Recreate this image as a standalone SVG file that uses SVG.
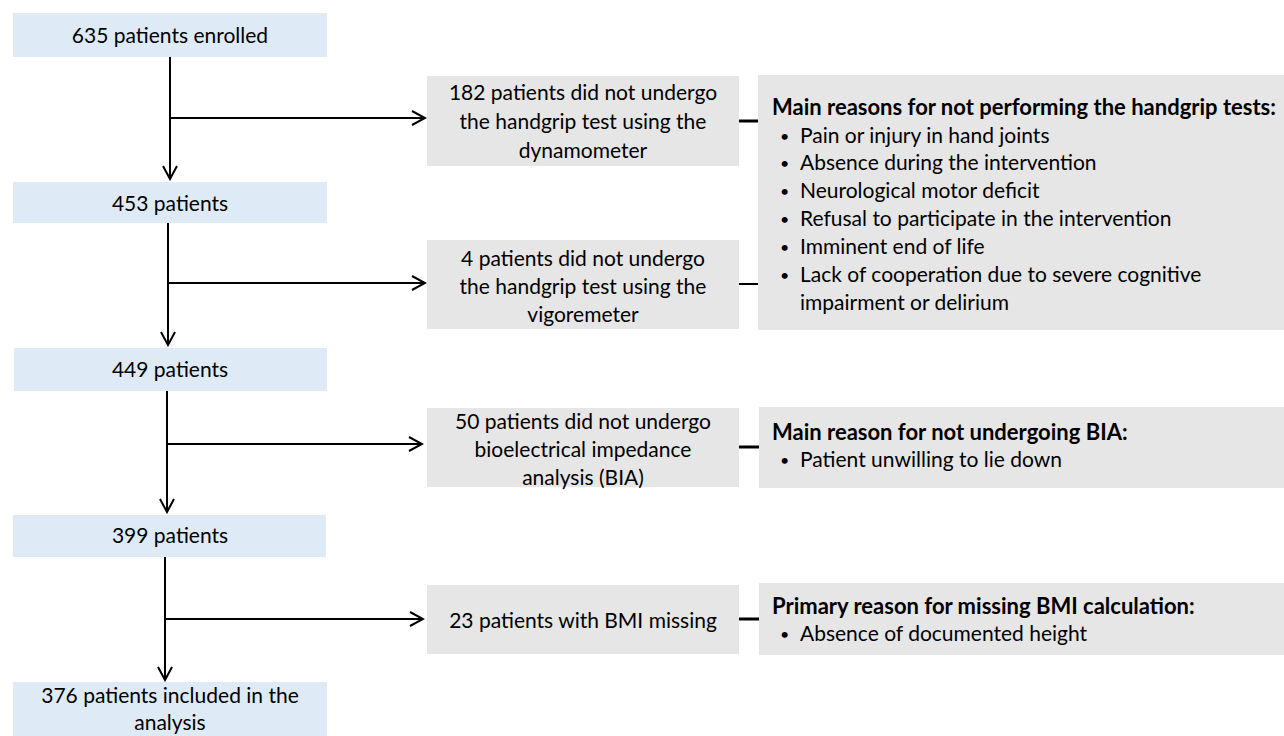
<svg xmlns="http://www.w3.org/2000/svg" width="1284" height="736" viewBox="0 0 1284 736">
<style>
text{font-family:Lato,"Open Sans","Liberation Sans",sans-serif;font-size:21px;fill:#000}
.c{text-anchor:middle}
.b{font-weight:bold;font-size:22px}
.d{font-size:16px}
.blue{fill:#DEEBF7}
.gray{fill:#E6E6E6}
.ln{stroke:#000;stroke-width:2;fill:none}
.thk{stroke:#000;stroke-width:3;fill:none}
</style>
<defs>
<marker id="ah" viewBox="0 0 16 16" refX="14" refY="8" markerWidth="16" markerHeight="16" markerUnits="userSpaceOnUse" orient="auto">
<path d="M1,1 L14,8 L1,15" fill="none" stroke="#000" stroke-width="2"/>
</marker>
</defs>
<rect width="1284" height="736" fill="#fff"/>
<g id="connectors">
<line class="ln" x1="170" y1="57" x2="170" y2="179" marker-end="url(#ah)"/>
<line class="ln" x1="170" y1="118" x2="425" y2="118" marker-end="url(#ah)"/>
<line class="ln" x1="168" y1="223" x2="168" y2="345" marker-end="url(#ah)"/>
<line class="ln" x1="168" y1="283" x2="425" y2="283" marker-end="url(#ah)"/>
<line class="ln" x1="167" y1="391" x2="167" y2="512" marker-end="url(#ah)"/>
<line class="ln" x1="167" y1="444" x2="422" y2="444" marker-end="url(#ah)"/>
<line class="ln" x1="165" y1="557" x2="165" y2="680" marker-end="url(#ah)"/>
<line class="ln" x1="165" y1="619" x2="423" y2="619" marker-end="url(#ah)"/>
<line class="thk" x1="739" y1="121" x2="758" y2="121"/>
<line class="ln" x1="739" y1="284" x2="758" y2="284"/>
<line class="thk" x1="739" y1="447" x2="759" y2="447"/>
<line class="thk" x1="739" y1="619" x2="759" y2="619"/>
</g>
<g id="n635">
<rect class="blue" x="13" y="13" width="314" height="44"/>
<text class="c" x="170" y="43">635 patients enrolled</text>
</g>
<g id="n453">
<rect class="blue" x="13" y="182" width="314" height="41"/>
<text class="c" x="170" y="211">453 patients</text>
</g>
<g id="n449">
<rect class="blue" x="14" y="348" width="313" height="43"/>
<text class="c" x="170" y="377">449 patients</text>
</g>
<g id="n399">
<rect class="blue" x="13" y="515" width="313" height="42"/>
<text class="c" x="170" y="543">399 patients</text>
</g>
<g id="n376">
<rect class="blue" x="13" y="682" width="314" height="54"/>
<text class="c" x="170" y="703">376 patients included in the</text>
<text class="c" x="170" y="730">analysis</text>
</g>
<g id="ex182">
<rect class="gray" x="427" y="76" width="312" height="90"/>
<text class="c" x="583" y="100">182 patients did not undergo</text>
<text class="c" x="583" y="129">the handgrip test using the</text>
<text class="c" x="583" y="158">dynamometer</text>
</g>
<g id="ex4">
<rect class="gray" x="427" y="240" width="312" height="89"/>
<text class="c" x="583" y="266">4 patients did not undergo</text>
<text class="c" x="583" y="294">the handgrip test using the</text>
<text class="c" x="583" y="322">vigoremeter</text>
</g>
<g id="ex50">
<rect class="gray" x="427" y="408" width="312" height="79"/>
<text class="c" x="583" y="429">50 patients did not undergo</text>
<text class="c" x="583" y="457">bioelectrical impedance</text>
<text class="c" x="583" y="485">analysis (BIA)</text>
</g>
<g id="ex23">
<rect class="gray" x="427" y="585" width="312" height="69"/>
<text class="c" x="583" y="628">23 patients with BMI missing</text>
</g>
<g id="reasons1">
<rect class="gray" x="758" y="75" width="526" height="255"/>
<text class="b" x="772" y="115">Main reasons for not performing the handgrip tests:</text>
<text class="d" x="780" y="142">•</text><text x="800" y="143">Pain or injury in hand joints</text>
<text class="d" x="780" y="169">•</text><text x="800" y="170">Absence during the intervention</text>
<text class="d" x="780" y="197">•</text><text x="800" y="198">Neurological motor deficit</text>
<text class="d" x="780" y="225">•</text><text x="800" y="226">Refusal to participate in the intervention</text>
<text class="d" x="780" y="253">•</text><text x="800" y="254">Imminent end of life</text>
<text class="d" x="780" y="281">•</text><text x="800" y="282">Lack of cooperation due to severe cognitive</text>
<text x="800" y="310">impairment or delirium</text>
</g>
<g id="reasons2">
<rect class="gray" x="759" y="407" width="525" height="81"/>
<text class="b" x="772" y="440">Main reason for not undergoing BIA:</text>
<text class="d" x="780" y="466">•</text><text x="800" y="467">Patient unwilling to lie down</text>
</g>
<g id="reasons3">
<rect class="gray" x="759" y="583" width="525" height="72"/>
<text class="b" x="772" y="614">Primary reason for missing BMI calculation:</text>
<text class="d" x="780" y="640">•</text><text x="800" y="641">Absence of documented height</text>
</g>
</svg>
